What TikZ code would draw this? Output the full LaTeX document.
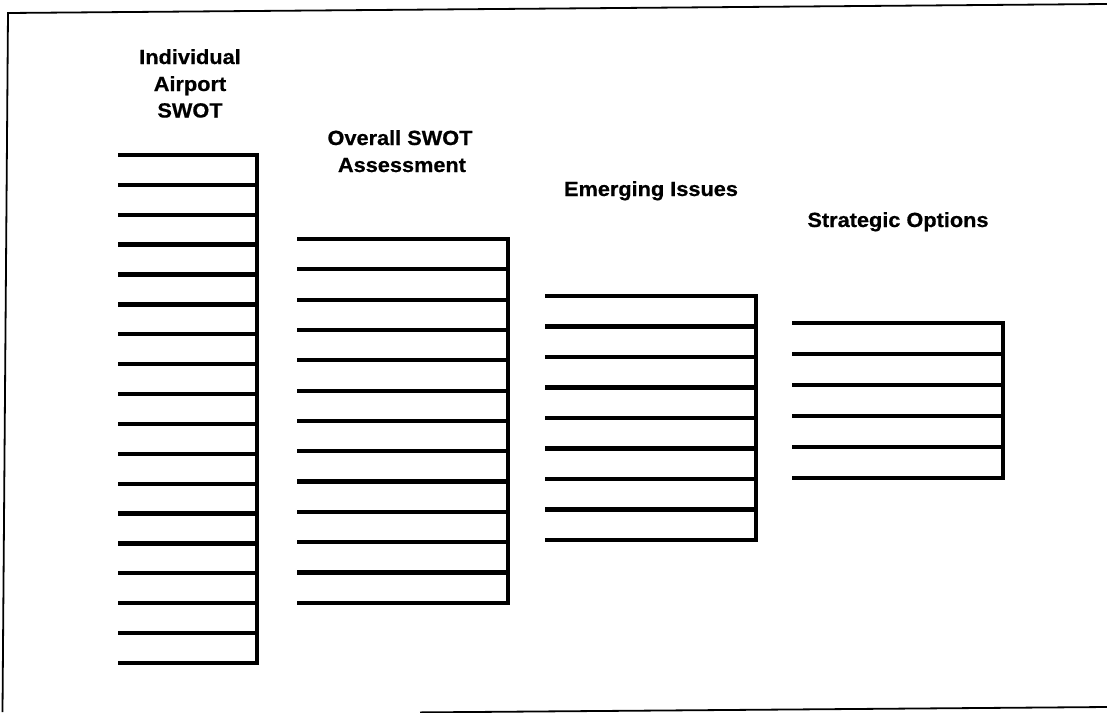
\documentclass[tikz,border=0pt]{standalone}
\usepackage{fontspec}
\setmainfont{Liberation Sans}[FakeStretch=1.06]
\newfontfamily\titlefont{Liberation Sans Bold}[FakeStretch=1.06,FakeBold=0.6]
\newcommand\ladderdraw[5]{%
  % #1 xl, #2 xr, #3 ytop, #4 n, #5 dy
  \foreach \k in {1,...,#4}{%
    \draw[rung] (#1,{#3+(\k-1)*#5}) -- (#2,{#3+(\k-1)*#5});
  }
  \draw[spine] (#2,#3) -- (#2,{#3+(#4-1)*#5});
}
\begin{document}
\begin{tikzpicture}[x=1pt,y=-1pt,
  rung/.style={line width=4.3pt,line cap=butt},
  spine/.style={line width=4.3pt,line cap=rect},
  frame/.style={line width=1.8pt},
  title/.style={anchor=base,inner sep=0pt,font=\fontsize{20.5}{24}\titlefont}]
\useasboundingbox (0,0) rectangle (1107,712);
% frame (slightly tilted scan)
\coordinate (fTL) at (8,13);
\coordinate (fTR) at (1107,4);
\coordinate (fBL) at (2.5,712);
\coordinate (fB1) at (420,712.4);
\coordinate (fBR) at (1107,707);
\draw[frame] (fTR) -- (fTL) -- (fBL);
\draw[frame] (fB1) -- (fBR);
% ladders
\ladderdraw{118}{257}{155}{18}{29.88}
\ladderdraw{297}{508}{239}{13}{30.33}
\ladderdraw{545}{756}{296}{9}{30.5}
\ladderdraw{792}{1003}{323}{6}{31}
% titles
\node[title] (t1a) at (190,64) {Individual};
\node[title] (t1b) at (190,91) {Airport};
\node[title] (t1c) at (190,117.5) {SWOT};
\node[title] (t2a) at (400,145) {Overall SWOT};
\node[title] (t2b) at (402,172) {Assessment};
\node[title] (t3) at (651,196) {Emerging Issues};
\node[title] (t4) at (898,227) {Strategic Options};
\end{tikzpicture}
\end{document}
